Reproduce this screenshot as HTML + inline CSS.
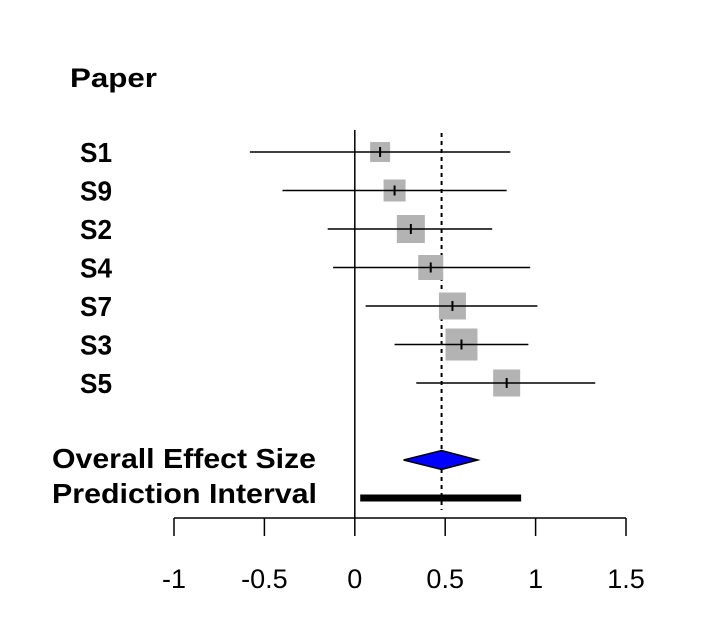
<!DOCTYPE html>
<html><head><meta charset="utf-8"><style>
body{margin:0;background:#fff}
text{font-family:"Liberation Sans",Arial,sans-serif}
</style></head><body>
<svg id="c" width="722" height="623" xmlns="http://www.w3.org/2000/svg"></svg>
<script>
const studies=["S1","S9","S2","S4","S7","S3","S5"];
const est=[0.14,0.22,0.31,0.42,0.54,0.59,0.84];
const lower=[-0.58,-0.40,-0.15,-0.12,0.06,0.22,0.34];
const upper=[0.86,0.84,0.76,0.97,1.01,0.96,1.33];
const weights=[20,22,28,25,27,32,27];
const overall=[0.27,0.48,0.68];
const predInt=[0.03,0.92];
const ticks=[-1,-0.5,0,0.5,1,1.5];
const tickLabels=["-1","-0.5","0","0.5","1","1.5"];

const svg=document.getElementById('c');
const NS='http://www.w3.org/2000/svg';
const x=v=>354.8+v*180.8;
const y=i=>152+i*38.5;
function el(t,a,txt){const e=document.createElementNS(NS,t);for(const k in a)e.setAttribute(k,a[k]);if(txt!==undefined)e.textContent=txt;svg.appendChild(e);return e;}

let e=el('text',{x:70,y:87,'font-size':27,'font-weight':'bold',textLength:87,lengthAdjust:'spacingAndGlyphs'},'Paper');


e=el('line',{x1:x(0),x2:x(0),y1:130,y2:518,stroke:'#000','stroke-width':1.5});


e=el('line',{x1:x(overall[1]),x2:x(overall[1]),y1:133,y2:510,stroke:'#000','stroke-width':2,'stroke-dasharray':'4,4'});



studies.forEach((s,i)=>{
  let t=el('text',{x:80,y:y(i)+10,'font-size':28,'font-weight':'bold',textLength:32,lengthAdjust:'spacingAndGlyphs'},s);
  
  
  const w=weights[i];
  let r=el('rect',{x:x(est[i])-w/2,y:y(i)-w/2,width:w,height:w,fill:'#b3b3b3'});
  
  
  let l=el('line',{x1:x(lower[i]),x2:x(upper[i]),y1:y(i),y2:y(i),stroke:'#000','stroke-width':1.5});
  
  
  let p=el('line',{x1:x(est[i]),x2:x(est[i]),y1:y(i)-5,y2:y(i)+5,stroke:'#000','stroke-width':2});
  
  
});

e=el('text',{x:52,y:468,'font-size':28,'font-weight':'bold',textLength:264,lengthAdjust:'spacingAndGlyphs'},'Overall Effect Size');


e=el('text',{x:52,y:503,'font-size':28,'font-weight':'bold',textLength:265,lengthAdjust:'spacingAndGlyphs'},'Prediction Interval');


const dy=460;
e=el('polygon',{points:`${x(overall[0])},${dy} ${x(overall[1])},${dy-9.5} ${x(overall[2])},${dy} ${x(overall[1])},${dy+9.5}`,fill:'#0000ff',stroke:'#000','stroke-width':1.5});


e=el('rect',{x:x(predInt[0]),y:494.5,width:x(predInt[1])-x(predInt[0]),height:7,fill:'#000'});



e=el('line',{x1:x(ticks[0]),x2:x(ticks[ticks.length-1]),y1:518,y2:518,stroke:'#000','stroke-width':1.5});


ticks.forEach((t,i)=>{
  let k=el('line',{x1:x(t),x2:x(t),y1:518,y2:536,stroke:'#000','stroke-width':1.5});
  
  
  let lb=el('text',{x:x(t),y:588,'font-size':27,'text-anchor':'middle'},tickLabels[i]);
  
  
});
</script>
</body></html>
